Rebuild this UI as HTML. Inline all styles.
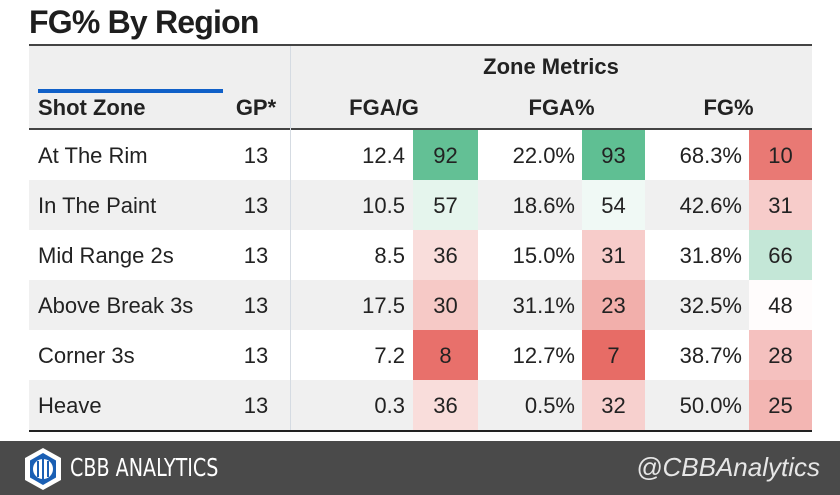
<!DOCTYPE html>
<html><head><meta charset="utf-8"><style>
body{margin:0;width:840px;height:495px;background:#fff;font-family:"Liberation Sans",sans-serif;position:relative;overflow:hidden;color:#222}
div{position:absolute;box-sizing:border-box}
.c{display:flex;align-items:center;font-size:22px;padding-top:2px}
</style></head><body>
<div style="left:29px;top:4px;font-size:32px;font-weight:bold;letter-spacing:-0.8px;color:#1e1e1e">FG% By Region</div>
<div style="left:29px;top:44px;width:783px;height:86px;background:#efefef;border-top:2px solid #444;border-bottom:2px solid #444"></div>
<div style="left:290px;top:54px;width:522px;text-align:center;font-size:22px;font-weight:bold">Zone Metrics</div>
<div style="left:38px;top:89px;width:185px;height:4px;background:#1060c8"></div>
<div style="left:38px;top:95px;font-size:22px;font-weight:bold">Shot Zone</div>
<div style="left:223px;top:95px;width:66px;text-align:center;font-size:22px;font-weight:bold">GP*</div>
<div style="left:290px;top:95px;width:188px;text-align:center;font-size:22px;font-weight:bold">FGA/G</div>
<div style="left:478px;top:95px;width:167px;text-align:center;font-size:22px;font-weight:bold">FGA%</div>
<div style="left:645px;top:95px;width:167px;text-align:center;font-size:22px;font-weight:bold">FG%</div>
<div id="rows"></div>
<div style="left:29px;top:430px;width:783px;height:2px;background:#222"></div>
<div style="left:290px;top:46px;width:1px;height:384px;background:#d5dbe2"></div>
<div style="left:0;top:441px;width:840px;height:54px;background:#4a4a4a">
  <svg style="position:absolute;left:23px;top:6px" width="40" height="44" viewBox="0 0 40 44">
    <polygon points="20,1 38,11 38,33 20,43 2,33 2,11" fill="#fff"/>
    <polygon points="20,6 33,13.5 33,30.5 20,38 7,30.5 7,13.5" fill="#1a5fb4"/>
    <circle cx="20" cy="22" r="10" fill="#fff"/>
    <path d="M15 14v16M20 12v20M25 14v16" stroke="#1a5fb4" stroke-width="2"/>
  </svg>
  <div style="left:70px;top:12px;color:#fff;font-size:25px;font-family:'DejaVu Sans Condensed','Liberation Sans Narrow',sans-serif;transform:scaleX(0.85);transform-origin:left">CBB ANALYTICS</div>
  <div style="right:20px;top:11px;color:#e6e6e6;font-size:26px;font-style:italic">@CBBAnalytics</div>
</div>
<script>
const zones=["At The Rim","In The Paint","Mid Range 2s","Above Break 3s","Corner 3s","Heave"];
const gp=[13,13,13,13,13,13];
const fgaPerGame=["12.4","10.5","8.5","17.5","7.2","0.3"];
const fgaPerGamePctile=[92,57,36,30,8,36];
const fgaPct=["22.0%","18.6%","15.0%","31.1%","12.7%","0.5%"];
const fgaPctPctile=[93,54,31,23,7,32];
const fgPct=["68.3%","42.6%","31.8%","32.5%","38.7%","50.0%"];
const fgPctPctile=[10,31,66,48,28,25];
function col(v){
  const w=[255,255,255],g=[84,186,139],r=[231,108,102];
  let t,e; if(v>=50){t=Math.min(1,(v-50)/46);e=g}else{t=Math.min(1,Math.pow((50-v)/43,1.3));e=r}
  return "rgb("+w.map((x,i)=>Math.round(x+(e[i]-x)*t)).join(",")+")";
}
const R=document.getElementById('rows');
function cell(x,w,y,txt,align,name,bg){
  const d=document.createElement('div');
  d.className='c';
  
  
  d.style.left=x+'px';d.style.top=y+'px';d.style.width=w+'px';d.style.height='50px';
  d.style.justifyContent=align;
  if(bg)d.style.background=bg;
  d.textContent=txt;R.appendChild(d);return d;
}
zones.forEach((z,i)=>{
  const y=130+i*50;
  const row=document.createElement('div');
  
  
  row.style.cssText='left:29px;top:'+y+'px;width:783px;height:50px;background:'+(i%2?'#f0f0f0':'#fff');
  R.appendChild(row);
  const a=cell(29,194,y,z,'flex-start','shot-zone-label');a.style.paddingLeft='9px';
  cell(223,66,y,String(gp[i]),'center','games-played');
  const b=cell(290,123,y,fgaPerGame[i],'flex-end','fga-per-game');b.style.paddingRight='8px';
  cell(413,65,y,String(fgaPerGamePctile[i]),'center','fga-per-game-percentile',col(fgaPerGamePctile[i]));
  const c=cell(478,104,y,fgaPct[i],'flex-end','fga-pct');c.style.paddingRight='7px';
  cell(582,63,y,String(fgaPctPctile[i]),'center','fga-pct-percentile',col(fgaPctPctile[i]));
  const d=cell(645,104,y,fgPct[i],'flex-end','fg-pct');d.style.paddingRight='7px';
  cell(749,63,y,String(fgPctPctile[i]),'center','fg-pct-percentile',col(fgPctPctile[i]));
});
</script>
</body></html>
